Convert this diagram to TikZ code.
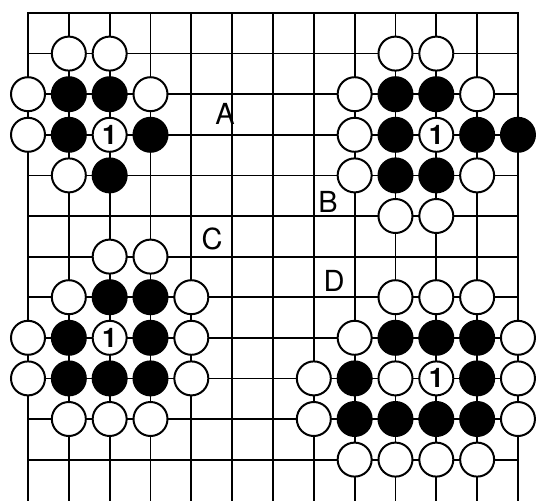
\documentclass[tikz,border=0pt]{standalone}
\usepackage{fontspec}
\setmainfont{TeX Gyre Heros}
\tikzset{
  gridline/.style={line width=1.8pt, line cap=rect},
  stone/.style={circle, minimum size=34pt, inner sep=0pt, line width=2pt, draw=black},
  wst/.style={stone, fill=white},
  bst/.style={stone, fill=black},
  numst/.style={wst, font=\fontsize{27}{27}\selectfont\bfseries},
  lab/.style={inner sep=0pt, font=\fontsize{29}{29}\selectfont}
}
\begin{document}
\begin{tikzpicture}[x=1pt,y=-1pt]
\useasboundingbox[fill=white] (0,0) rectangle (540,500);
\begin{scope}[shift={(28,13)}, x=40.83pt, y=-40.6pt]
  % grid
  \foreach \c in {0,...,12} \draw[gridline] (\c,0) -- (\c,12.2);
  \foreach \r in {0,...,11} \draw[gridline] (0,\r) -- (12,\r);
  % top-left group
  \foreach \c/\r [count=\i] in {1/1,2/1,0/2,3/2,0/3,1/4}
    \node[wst] (tlw\i) at (\c,\r) {};
  \foreach \c/\r [count=\i] in {1/2,2/2,1/3,3/3,2/4}
    \node[bst] (tlb\i) at (\c,\r) {};
  \node[numst] (tl1) at (2,3) {1};
  % top-right group
  \foreach \c/\r [count=\i] in {9/1,10/1,8/2,11/2,8/3,8/4,11/4,9/5,10/5}
    \node[wst] (trw\i) at (\c,\r) {};
  \foreach \c/\r [count=\i] in {9/2,10/2,9/3,11/3,12/3,9/4,10/4}
    \node[bst] (trb\i) at (\c,\r) {};
  \node[numst] (tr1) at (10,3) {1};
  % bottom-left group
  \foreach \c/\r [count=\i] in {2/6,3/6,1/7,4/7,0/8,4/8,0/9,4/9,1/10,2/10,3/10}
    \node[wst] (blw\i) at (\c,\r) {};
  \foreach \c/\r [count=\i] in {2/7,3/7,1/8,3/8,1/9,2/9,3/9}
    \node[bst] (blb\i) at (\c,\r) {};
  \node[numst] (bl1) at (2,8) {1};
  % bottom-right group
  \foreach \c/\r [count=\i] in {9/7,10/7,11/7,8/8,12/8,7/9,9/9,12/9,7/10,12/10,8/11,9/11,10/11,11/11}
    \node[wst] (brw\i) at (\c,\r) {};
  \foreach \c/\r [count=\i] in {9/8,10/8,11/8,8/9,11/9,8/10,9/10,10/10,11/10}
    \node[bst] (brb\i) at (\c,\r) {};
  \node[numst] (br1) at (10,9) {1};
\end{scope}
% letters
\node[lab] (la) at (225,114) {A};
\node[lab] (lb) at (328,202) {B};
\node[lab] (lc) at (212,239) {C};
\node[lab] (ld) at (334,281) {D};
\end{tikzpicture}
\end{document}
